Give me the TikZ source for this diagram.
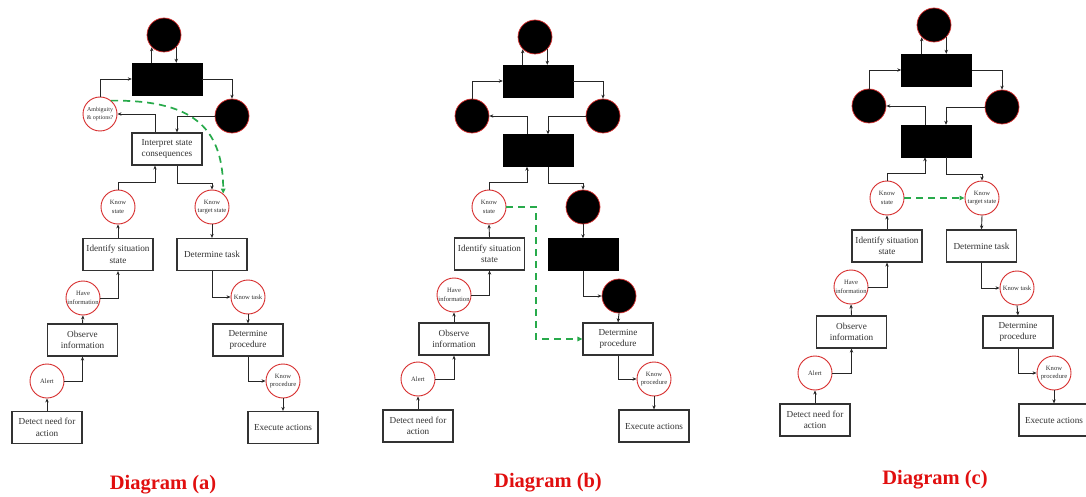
\documentclass[tikz,border=0pt]{standalone}
\usepackage{fontspec}
\setmainfont{Liberation Serif}
\usetikzlibrary{arrows.meta,calc}
\definecolor{inkgray}{RGB}{50,50,50}
\definecolor{ringred}{RGB}{215,45,45}
\definecolor{flowgreen}{RGB}{40,170,75}
\definecolor{titlered}{RGB}{225,15,15}
\tikzset{
  stepbox/.style={draw=inkgray, line width=1.2pt, fill=white, minimum width=70pt,
    minimum height=32pt, inner sep=1pt, align=center, text=inkgray,
    font=\fontsize{9.2}{11.5}\selectfont},
  hiddenbox/.style={draw=black, fill=black, minimum width=70pt, minimum height=32pt, inner sep=0pt},
  ring/.style={circle, draw=ringred, line width=0.9pt, fill=white, minimum size=34pt,
    inner sep=0pt, align=center, text=inkgray, font=\fontsize{6.6}{8.8}\selectfont},
  hiddenring/.style={circle, draw=ringred, line width=0.7pt, fill=black, minimum size=34pt, inner sep=0pt},
  link/.style={draw=black!85, line width=0.9pt, -{Stealth[length=4pt,width=3.4pt]}},
  shortcut/.style={draw=flowgreen, line width=1.7pt, dash pattern=on 7pt off 5pt,
    -{Triangle[length=5pt,width=4.5pt]}},
  caption/.style={text=titlered, font=\fontsize{20.5}{24}\selectfont\bfseries}
}
\begin{document}
\begin{tikzpicture}[x=1pt,y=-1pt]
\useasboundingbox[fill=white] (0,0) rectangle (1086,497);

% ---------------- Diagram (a) ----------------
\node[hiddenring] (a-top) at (164,35) {};
\node[hiddenbox] (a-r1) at (167,79) {};
\node[ring, font=\fontsize{6}{8.6}\selectfont] (a-amb) at (100,114) {Ambiguity\\\& options?};
\node[hiddenring] (a-dot) at (232,116) {};
\node[stepbox] (a-interp) at (167,149) {Interpret state\\consequences};
\node[ring] (a-ks) at (118,207) {Know\\state};
\node[ring] (a-kt) at (212,207) {Know\\target state};
\node[stepbox] (a-ident) at (118,254.5) {Identify situation\\state};
\node[stepbox] (a-task) at (212,254.5) {Determine task};
\node[ring] (a-hi) at (83,298) {Have\\information};
\node[ring] (a-ktask) at (248,297) {Know task};
\node[stepbox] (a-obs) at (82.5,340) {Observe\\information};
\node[stepbox] (a-proc) at (248,340) {Determine\\procedure};
\node[ring] (a-alert) at (47,381) {Alert};
\node[ring] (a-kp) at (283,381) {Know\\procedure};
\node[stepbox] (a-detect) at (47,427.5) {Detect need for\\action};
\node[stepbox] (a-exec) at (283,427.5) {Execute actions};
\node[caption] (a-cap) at (163,485) {Diagram (a)};

\draw[link] (a-top.-135 |- a-r1.north) -- (a-top.-135);
\draw[link] (a-top.-45) -- (a-top.-45 |- a-r1.north);
\draw[link] (a-amb.north) |- (a-r1.west);
\draw[link] (a-r1.east) -| (a-dot.north);
\draw[link] (a-dot.west) -| ([xshift=10pt]a-interp.north);
\draw[link] ([xshift=-12pt]a-interp.north) |- (a-amb.east);
\draw[link] (a-ks.north) -- ++(0,-7) -| ([xshift=-12pt]a-interp.south);
\draw[link] ([xshift=10pt]a-interp.south) -- ++(0,18) -| (a-kt.north);
\draw[link] (a-ident.north) -- (a-ks.south);
\draw[link] (a-kt.south) -- (a-task.north);
\draw[link] (a-hi.east) -| (a-ident.south);
\draw[link] (a-obs.north) -- (a-hi.south);
\draw[link] (a-alert.east) -| (a-obs.south);
\draw[link] (a-detect.north) -- (a-alert.south);
\draw[link] (a-task.south) |- (a-ktask.west);
\draw[link] (a-ktask.south) -- (a-proc.north);
\draw[link] (a-proc.south) |- (a-kp.west);
\draw[link] (a-kp.south) -- (a-exec.north);
\draw[shortcut] (a-amb.50) .. controls (190,100) and (223,125) .. (a-kt.50);

% ---------------- Diagram (b) ----------------
\node[hiddenring] (b-top) at (535,37) {};
\node[hiddenbox] (b-r1) at (538,81) {};
\node[hiddenring] (b-left) at (472,116) {};
\node[hiddenring] (b-right) at (603,116) {};
\node[hiddenbox] (b-r2) at (538,150.5) {};
\node[ring] (b-ks) at (489,207) {Know\\state};
\node[hiddenring] (b-dot3) at (583,207) {};
\node[stepbox] (b-ident) at (489.5,254) {Identify situation\\state};
\node[hiddenbox] (b-r3) at (583,254.5) {};
\node[ring] (b-hi) at (454,295) {Have\\information};
\node[hiddenring] (b-dot4) at (619,296) {};
\node[stepbox] (b-obs) at (454,339) {Observe\\information};
\node[stepbox] (b-proc) at (618,339) {Determine\\procedure};
\node[ring] (b-alert) at (418,379) {Alert};
\node[ring] (b-kp) at (654,379) {Know\\procedure};
\node[stepbox] (b-detect) at (418,426) {Detect need for\\action};
\node[stepbox] (b-exec) at (654,426) {Execute actions};
\node[caption] (b-cap) at (548,483) {Diagram (b)};

\draw[link] (b-top.-135 |- b-r1.north) -- (b-top.-135);
\draw[link] (b-top.-45) -- (b-top.-45 |- b-r1.north);
\draw[link] (b-left.north) |- (b-r1.west);
\draw[link] (b-r1.east) -| (b-right.north);
\draw[link] ([xshift=-11pt]b-r2.north) |- (b-left.east);
\draw[link] (b-right.west) -| ([xshift=10pt]b-r2.north);
\draw[link] (b-ks.north) -- ++(0,-7) -| ([xshift=-11pt]b-r2.south);
\draw[link] ([xshift=10pt]b-r2.south) -- ++(0,17) -| (b-dot3.north);
\draw[link] (b-ident.north) -- (b-ks.south);
\draw[link] (b-dot3.south) -- (b-r3.north);
\draw[link] (b-hi.east) -| (b-ident.south);
\draw[link] (b-obs.north) -- (b-hi.south);
\draw[link] (b-alert.east) -| (b-obs.south);
\draw[link] (b-detect.north) -- (b-alert.south);
\draw[link] (b-r3.south) |- (b-dot4.west);
\draw[link] (b-dot4.south) -- (b-proc.north);
\draw[link] (b-proc.south) |- (b-kp.west);
\draw[link] (b-kp.south) -- (b-exec.north);
\draw[shortcut] (b-ks.east) -- ++(29.55,0) |- (b-proc.west);

% ---------------- Diagram (c) ----------------
\node[hiddenring] (c-top) at (934,25) {};
\node[hiddenbox] (c-r1) at (936.5,70) {};
\node[hiddenring] (c-left) at (869,106) {};
\node[hiddenring] (c-right) at (1002,107) {};
\node[hiddenbox] (c-r2) at (936.5,141) {};
\node[ring] (c-ks) at (887,198) {Know\\state};
\node[ring] (c-kt) at (982,198) {Know\\target state};
\node[stepbox] (c-ident) at (887,246) {Identify situation\\state};
\node[stepbox] (c-task) at (981.5,246) {Determine task};
\node[ring] (c-hi) at (851,287) {Have\\information};
\node[ring] (c-ktask) at (1017,288) {Know task};
\node[stepbox] (c-obs) at (851.5,332) {Observe\\information};
\node[stepbox] (c-proc) at (1018,332) {Determine\\procedure};
\node[ring] (c-alert) at (815,373) {Alert};
\node[ring] (c-kp) at (1054,373) {Know\\procedure};
\node[stepbox] (c-detect) at (815,420) {Detect need for\\action};
\node[stepbox] (c-exec) at (1054,420) {Execute actions};
\node[caption] (c-cap) at (935,480) {Diagram (c)};

\draw[link] (c-top.-135 |- c-r1.north) -- (c-top.-135);
\draw[link] (c-top.-45) -- (c-top.-45 |- c-r1.north);
\draw[link] (c-left.north) |- (c-r1.west);
\draw[link] (c-r1.east) -| (c-right.north);
\draw[link] ([xshift=-11.5pt]c-r2.north) |- (c-left.east);
\draw[link] (c-right.west) -| ([xshift=9.5pt]c-r2.north);
\draw[link] (c-ks.north) -- ++(0,-7) -| ([xshift=-11.5pt]c-r2.south);
\draw[link] ([xshift=9.5pt]c-r2.south) -- ++(0,17) -| (c-kt.north);
\draw[link] (c-ident.north) -- (c-ks.south);
\draw[link] (c-kt.south) -- (c-task.north);
\draw[link] (c-hi.east) -| (c-ident.south);
\draw[link] (c-obs.north) -- (c-hi.south);
\draw[link] (c-alert.east) -| (c-obs.south);
\draw[link] (c-detect.north) -- (c-alert.south);
\draw[link] (c-task.south) |- (c-ktask.west);
\draw[link] (c-ktask.south) -- (c-proc.north);
\draw[link] (c-proc.south) |- (c-kp.west);
\draw[link] (c-kp.south) -- (c-exec.north);
\draw[shortcut] (c-ks.east) -- (c-kt.west);
\end{tikzpicture}
\end{document}
